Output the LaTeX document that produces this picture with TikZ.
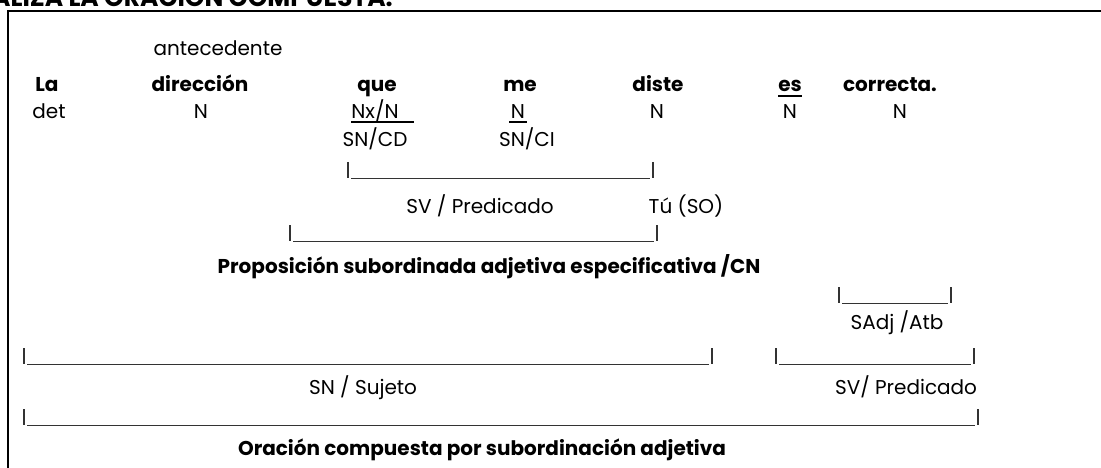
\documentclass[tikz,border=0pt]{standalone}
\usepackage{fontspec}
\setmainfont{Poppins}
\begin{document}
\begin{tikzpicture}[x=1pt,y=-1pt,
  txt/.style={inner sep=0pt,anchor=base,font=\fontsize{20}{24}\selectfont},
  btxt/.style={txt,font=\fontsize{20}{24}\selectfont\bfseries},
  brk/.style={draw=black!80,line width=1.1pt},
  ul/.style={draw=black,line width=1.5pt}]
\useasboundingbox (0,0) rectangle (1101,468);
\clip (0,0) rectangle (1101,468);
% title (cut at top)
\node[txt,font=\fontsize{25}{30}\selectfont\bfseries,anchor=base east] (title) at (393,7) {ANALIZA LA ORACIÓN COMPUESTA:};
% frame
\draw[line width=2.6pt] (8,1000) -- (8,11) -- (1200,11);
% words
\node[txt] (ante) at (218,56) {antecedente};
\node[btxt] (la) at (47,92) {La};
\node[btxt] (dir) at (200,92) {dirección};
\node[btxt] (que) at (377,92) {que};
\node[btxt] (me) at (520,92) {me};
\node[btxt] (diste) at (658,92) {diste};
\node[btxt] (es) at (790,92) {es};
\node[btxt] (corr) at (890,92) {correcta.};
\node[txt] (det) at (49,119) {det};
\node[txt] (n1) at (201,119) {N};
\node[txt] (nx) at (375,119) {Nx/N};
\node[txt] (n2) at (518,119) {N};
\node[txt] (n3) at (657,119) {N};
\node[txt] (n4) at (790,119) {N};
\node[txt] (n5) at (900,119) {N};
\node[txt] (sncd) at (375,147) {SN/CD};
\node[txt] (snci) at (527,147) {SN/CI};
% underlines
\draw[ul] (778,96) -- (802,96);
\draw[ul] (351,122) -- (414,122);
\draw[ul] (509,122) -- (527,122);
% brackets
\newcommand\brak[3]{\draw[brk] (#1,#3-16) -- (#1,#3); \draw[brk] (#1+3,#3+0.5) -- (#2-3,#3+0.5); \draw[brk] (#2,#3-16) -- (#2,#3);}
\brak{348}{653}{178}
\node[txt] (svp) at (480,213) {SV / Predicado};
\node[txt] (tu) at (686,213) {Tú (SO)};
\brak{290}{657}{241}
\node[btxt] (prop) at (489,273) {Proposición subordinada adjetiva especificativa /CN};
\brak{839}{951}{303}
\node[txt] (sadj) at (897,329) {SAdj /Atb};
\brak{24}{712}{364}
\brak{776}{974}{364}
\node[txt] (sn) at (363,394) {SN / Sujeto};
\node[txt] (svp2) at (906,394) {SV/ Predicado};
\brak{24}{978}{425}
\node[btxt] (orac) at (482,455) {Oración compuesta por subordinación adjetiva};
\end{tikzpicture}
\end{document}
